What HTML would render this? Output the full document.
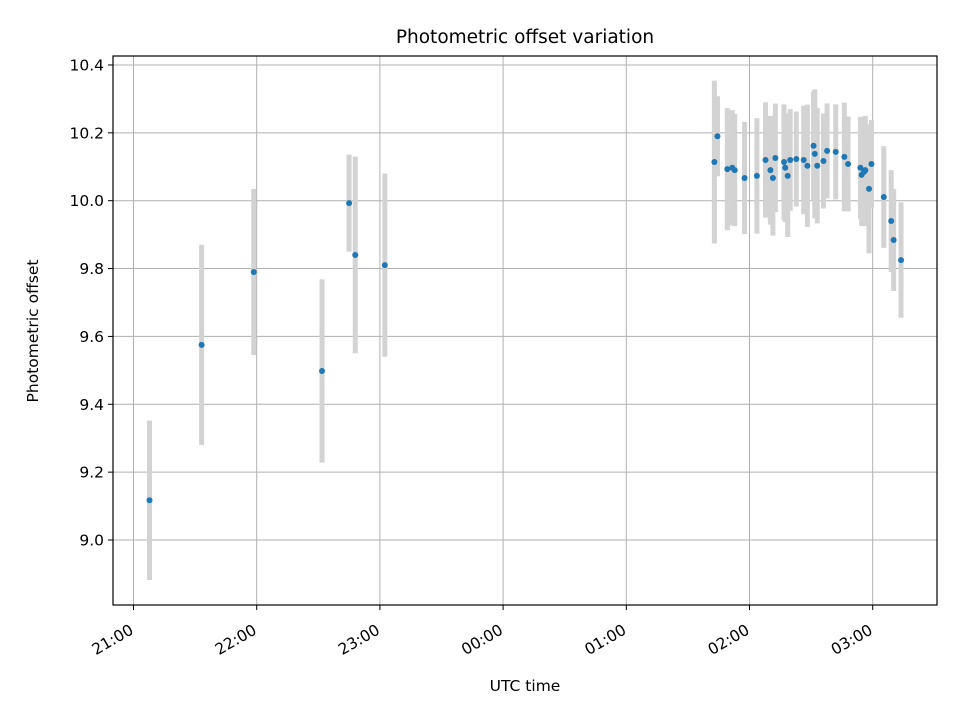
<!DOCTYPE html>
<html><head><meta charset="utf-8"><style>
body{margin:0;background:#fff}
svg{font-family:"DejaVu Sans","Liberation Sans",sans-serif}
</style></head><body>
<svg id="c" width="960" height="720" xmlns="http://www.w3.org/2000/svg"></svg>
<script>
// hours since 21:00 UTC
const times=[0.13,0.553,0.976,1.53,1.75,1.80,2.04,4.715,4.74,4.82,4.86,4.88,4.96,5.06,5.13,5.17,5.19,5.21,5.28,5.29,5.31,5.33,5.38,5.44,5.47,5.52,5.53,5.55,5.60,5.63,5.70,5.77,5.80,5.90,5.91,5.93,5.94,5.97,5.99,6.09,6.15,6.17,6.23];
const offsets=[9.117,9.575,9.79,9.498,9.993,9.84,9.81,10.114,10.19,10.093,10.097,10.09,10.067,10.073,10.12,10.09,10.067,10.126,10.114,10.097,10.073,10.12,10.123,10.12,10.103,10.162,10.138,10.103,10.117,10.147,10.144,10.129,10.108,10.097,10.076,10.085,10.09,10.035,10.108,10.011,9.94,9.884,9.825];
const errors=[0.235,0.295,0.245,0.27,0.143,0.29,0.27,0.24,0.118,0.18,0.17,0.165,0.165,0.17,0.17,0.16,0.17,0.16,0.17,0.16,0.18,0.15,0.14,0.16,0.18,0.16,0.19,0.17,0.14,0.14,0.14,0.16,0.14,0.15,0.15,0.16,0.16,0.19,0.13,0.15,0.15,0.15,0.17];
const xTickLabels=["21:00","22:00","23:00","00:00","01:00","02:00","03:00"];
const yTicks=[9.0,9.2,9.4,9.6,9.8,10.0,10.2,10.4];

const NS="http://www.w3.org/2000/svg",svg=document.getElementById('c');
const L=113,R=937,T=56,B=605;
const X=h=>133.5+h*123.2;
const Y=v=>540-(v-9.0)*339.3;
function el(t,a,p){const e=document.createElementNS(NS,t);for(const k in a)e.setAttribute(k,a[k]);(p||svg).appendChild(e);return e;}
el('rect',{x:0,y:0,width:960,height:720,fill:'#fff'});
xTickLabels.forEach((s,i)=>{const x=X(i);
 const g=el('line',{x1:x,x2:x,y1:T,y2:B,stroke:'#b0b0b0','stroke-width':1});
 
 
 const tk=el('line',{x1:x,x2:x,y1:B,y2:B+5,stroke:'#000'});
 
 
 const ax=x+1, ay=B+28;
 const t=el('text',{x:ax,y:ay,'font-size':15.5,'text-anchor':'end',transform:`rotate(-30 ${ax} ${ay})`});
 t.textContent=s;
 
 
});
yTicks.forEach(v=>{const y=Y(v);
 const g=el('line',{x1:L,x2:R,y1:y,y2:y,stroke:'#b0b0b0','stroke-width':1});
 
 
 const tk=el('line',{x1:L-5,x2:L,y1:y,y2:y,stroke:'#000'});
 
 
 const t=el('text',{x:L-9,y:y+5.5,'font-size':15.5,'text-anchor':'end'});
 t.textContent=v.toFixed(1);
 
 
});
times.forEach((h,i)=>{
 const b=el('line',{x1:X(h),x2:X(h),y1:Y(offsets[i]+errors[i]),y2:Y(offsets[i]-errors[i]),stroke:'#d3d3d3','stroke-width':5});
 
 
});
times.forEach((h,i)=>{
 const c=el('circle',{cx:X(h),cy:Y(offsets[i]),r:3,fill:'#1f77b4'});
 
 
});
const fr=el('rect',{x:L,y:T,width:R-L,height:B-T,fill:'none',stroke:'#000','stroke-width':1.2});


const ti=el('text',{x:525,y:43,'font-size':18.5,'text-anchor':'middle'});ti.textContent='Photometric offset variation';


const xt=el('text',{x:525,y:691,'font-size':15.5,'text-anchor':'middle'});xt.textContent='UTC time';


const yt=el('text',{x:38,y:331,'font-size':15.5,'text-anchor':'middle',transform:'rotate(-90 38 331)'});yt.textContent='Photometric offset';


</script>
</body></html>
